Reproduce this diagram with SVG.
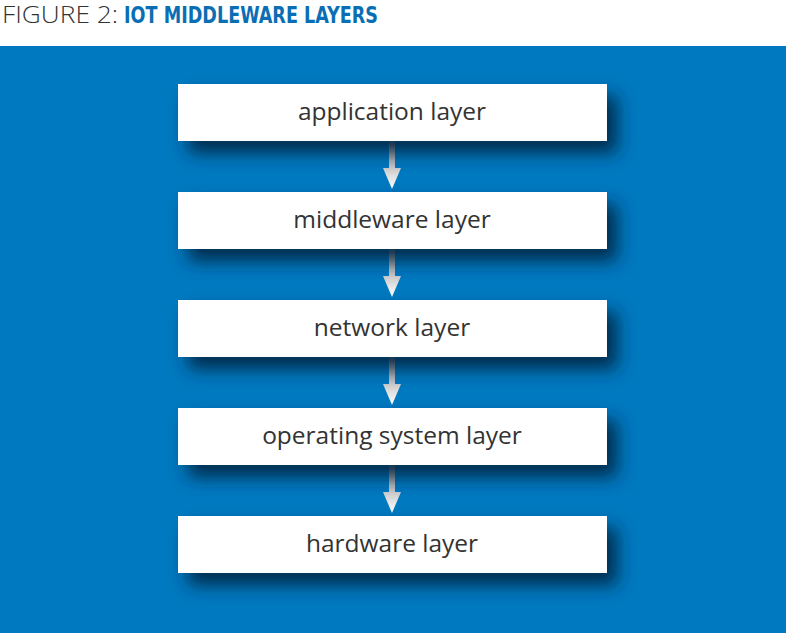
<svg xmlns="http://www.w3.org/2000/svg" width="786" height="633" viewBox="0 0 786 633">
<defs>
<filter id="sh" x="-20%" y="-50%" width="140%" height="220%">
<feDropShadow dx="10" dy="12" stdDeviation="9" flood-color="#00243f" flood-opacity="0.9"/>
</filter>
<linearGradient id="ag" x1="0" y1="0" x2="0" y2="1">
<stop offset="0" stop-color="#8a8a8a"/>
<stop offset="1" stop-color="#ffffff"/>
</linearGradient>
</defs>
<style>
.box{fill:#ffffff}
.lbl{font-family:"Open Sans","DejaVu Sans",sans-serif;font-size:24.5px;fill:#333333;text-anchor:middle}
.arr{fill:url(#ag)}
</style>
<rect x="0" y="0" width="786" height="633" fill="#ffffff"/>
<rect x="0" y="46" width="786" height="587" fill="#0079c0"/>
<text x="2" y="23" font-family="'Open Sans','DejaVu Sans',sans-serif" font-size="24" font-weight="300" fill="#333333" textLength="116" lengthAdjust="spacingAndGlyphs">FIGURE 2:</text>
<text x="124" y="23" font-family="'DejaVu Sans Condensed','DejaVu Sans',sans-serif" font-stretch="condensed" font-size="23" font-weight="bold" fill="#0a6eb4" textLength="254" lengthAdjust="spacingAndGlyphs">IOT MIDDLEWARE LAYERS</text>
<g id="connectors">
<g class="arr">
<path d="M389,141 h6 v27 h6 l-9,21 l-9,-21 h6 z"/>
<path d="M389,249 h6 v27 h6 l-9,21 l-9,-21 h6 z"/>
<path d="M389,357 h6 v27 h6 l-9,21 l-9,-21 h6 z"/>
<path d="M389,465 h6 v27 h6 l-9,21 l-9,-21 h6 z"/>
</g>
</g>
<g id="application"><rect class="box" x="178" y="84" width="429" height="57" filter="url(#sh)"/><text class="lbl" x="392" y="120">application layer</text></g>
<g id="middleware"><rect class="box" x="178" y="192" width="429" height="57" filter="url(#sh)"/><text class="lbl" x="392" y="228">middleware layer</text></g>
<g id="network"><rect class="box" x="178" y="300" width="429" height="57" filter="url(#sh)"/><text class="lbl" x="392" y="336">network layer</text></g>
<g id="os"><rect class="box" x="178" y="408" width="429" height="57" filter="url(#sh)"/><text class="lbl" x="392" y="444">operating system layer</text></g>
<g id="hardware"><rect class="box" x="178" y="516" width="429" height="57" filter="url(#sh)"/><text class="lbl" x="392" y="552">hardware layer</text></g>
</svg>
